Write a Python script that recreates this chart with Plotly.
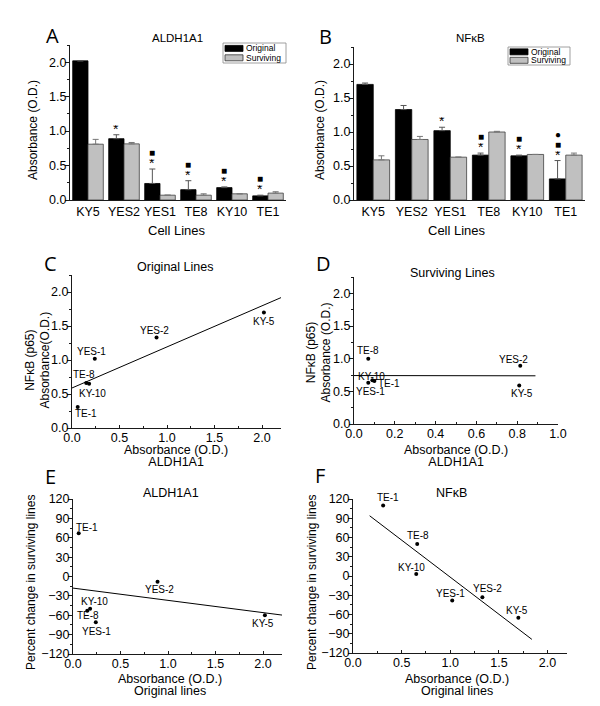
import numpy as np
import plotly.graph_objects as go

# ---------------- data ----------------
cell_lines = ["KY5", "YES2", "YES1", "TE8", "KY10", "TE1"]
aldh_original = [2.02, 0.89, 0.24, 0.15, 0.18, 0.06]
aldh_original_err = [0.0, 0.057, 0.21, 0.13, 0.01, 0.01]
aldh_surviving = [0.81, 0.815, 0.07, 0.07, 0.09, 0.10]
aldh_surviving_err = [0.07, 0.02, 0.0, 0.02, 0.0, 0.02]
nfkb_original = [1.70, 1.33, 1.02, 0.66, 0.65, 0.31]
nfkb_original_err = [0.02, 0.06, 0.05, 0.03, 0.01, 0.27]
nfkb_surviving = [0.59, 0.89, 0.63, 1.00, 0.67, 0.66]
nfkb_surviving_err = [0.06, 0.045, 0.0, 0.01, 0.0, 0.03]
aldh_sig = ["", "*", "*■", "*■", "*■", "*■"]
nfkb_sig = ["", "", "*", "*■", "*■", "*■●"]

point_labels = ["KY-5", "YES-2", "YES-1", "TE-8", "KY-10", "TE-1"]
aldh_pct_change = [-60, -8, -71, -53, -50, 67]
nfkb_pct_change = [-65, -33, -38, 50, 3, 110]

# ---------------- helpers ----------------
# the page body keeps its default 8px margin, so the figure is drawn 8px in
# from the top-left of the window; all positions below are window pixels.
PAGE_OFF = 8
W, H = 600 - PAGE_OFF, 706 - PAGE_OFF
FONT = "Liberation Sans"
INK = "#1a1a1a"
TICKFS = 12.5


def fx(p):
    return (p - PAGE_OFF) / W


def fy(p):
    return 1 - (p - PAGE_OFF) / H


def base_axis(**kw):
    d = dict(showline=True, linecolor=INK, linewidth=1, ticks="outside", ticklen=4,
             tickwidth=1, tickcolor=INK, showgrid=False, zeroline=False, automargin=False,
             tickfont=dict(size=TICKFS, family=FONT, color="#000"), fixedrange=True)
    d.update(kw)
    return d


def yax(**kw):
    return base_axis(ticklabelstandoff=-4, **kw)


def minor(dt, where="outside"):
    return dict(dtick=dt, ticks=where, ticklen=2, tickcolor=INK, tickwidth=1)


def sized(s, px):
    return "<span style='font-size:%gpx'>%s</span>" % (px, s)


fig = go.Figure()

# ---------------- bar panels A & B ----------------
bar_panels = [
    ("x", "y", aldh_original, aldh_original_err, aldh_surviving, aldh_surviving_err, aldh_sig),
    ("x2", "y2", nfkb_original, nfkb_original_err, nfkb_surviving, nfkb_surviving_err, nfkb_sig),
]
annotations = []
BARGAP = 0.15
SIG_STYLE = {"*": (6, 14), "■": (17, 10), "●": (27, 10)}   # (px above error cap, font size)
for xa, ya, orig, oerr, surv, serr, sig in bar_panels:
    fig.add_trace(go.Bar(
        x=cell_lines, y=orig, xaxis=xa, yaxis=ya, showlegend=False, name="Original",
        marker=dict(color="#000000", line=dict(color="#000000", width=0.8)),
        error_y=dict(type="data", array=oerr, arrayminus=[0] * len(oerr), symmetric=False,
                     color="#555555", thickness=1, width=3)))
    fig.add_trace(go.Bar(
        x=cell_lines, y=surv, xaxis=xa, yaxis=ya, showlegend=False, name="Surviving",
        marker=dict(color="#c0c0c0", line=dict(color="#404040", width=0.8)),
        error_y=dict(type="data", array=serr, arrayminus=[0] * len(serr), symmetric=False,
                     color="#777777", thickness=1, width=3)))
    off = -(1 - BARGAP) / 4
    for i, s in enumerate(sig):
        top = orig[i] + oerr[i]
        for ch in s:
            ys, fs = SIG_STYLE[ch]
            annotations.append(dict(x=i + off, y=top, xref=xa, yref=ya, text=ch, showarrow=False,
                                    yshift=ys, height=8, width=10, borderpad=0,
                                    font=dict(size=fs, family=FONT, color="#000")))


# ---------------- scatter panels ----------------
def add_scatter(xa, ya, xs, ys, xrange_, offsets):
    fig.add_trace(go.Scatter(x=xs, y=ys, mode="markers", xaxis=xa, yaxis=ya, showlegend=False,
                             marker=dict(color="#000", size=4)))
    slope, intercept = np.polyfit(xs, ys, 1)
    ext = 0.1 * (max(xs) - min(xs))
    x0 = max(xrange_[0], min(xs) - ext)
    x1 = min(xrange_[1], max(xs) + ext)
    lx = np.array([x0, x1])
    fig.add_trace(go.Scatter(x=lx, y=slope * lx + intercept, mode="lines", xaxis=xa, yaxis=ya,
                             showlegend=False, line=dict(color="#000", width=1)))
    for lab, xv, yv in zip(point_labels, xs, ys):
        dx, dy = offsets[lab]
        annotations.append(dict(x=xv, y=yv, xref=xa, yref=ya, text=lab, showarrow=False,
                                xshift=dx, yshift=-dy, font=dict(size=10, family=FONT, color="#000")))


offC = {"KY-5": (0, 9), "YES-2": (-2, -7), "YES-1": (-3, -7), "TE-8": (-2, -9), "KY-10": (3, 10), "TE-1": (8, 7)}
offD = {"KY-5": (3, 8), "YES-2": (-7, -6), "YES-1": (2, 9), "TE-8": (0, -8), "KY-10": (-1, -4), "TE-1": (15, 3)}
offE = {"KY-5": (-2, 8), "YES-2": (2, 8), "YES-1": (1, 9), "TE-8": (1, 5), "KY-10": (4, -7), "TE-1": (8, -6)}
offF = {"KY-5": (-1, -7), "YES-2": (5, -9), "YES-1": (-2, -7), "TE-8": (1, -8), "KY-10": (-5, -7), "TE-1": (5, -8)}

add_scatter("x3", "y3", aldh_original, nfkb_original, (0, 2.2), offC)
add_scatter("x4", "y4", aldh_surviving, nfkb_surviving, (0, 1.0), offD)
add_scatter("x5", "y5", aldh_original, aldh_pct_change, (0, 2.2), offE)
add_scatter("x6", "y6", nfkb_original, nfkb_pct_change, (0, 2.2), offF)

# ---------------- axes ----------------
sx = dict(ticks="inside", ticklen=3, tickformat=".1f", ticklabelstandoff=-2)
layout_axes = dict(
    xaxis=base_axis(domain=[fx(70), fx(286)], anchor="y", type="category", range=[-0.5, 5.5], ticks=""),
    yaxis=yax(domain=[fy(200), fy(45)], anchor="x", range=[0, 2.25], dtick=0.5, tickformat=".1f", minor=minor(0.25)),
    xaxis2=base_axis(domain=[fx(354), fx(585)], anchor="y2", type="category", range=[-0.5, 5.5], ticks=""),
    yaxis2=yax(domain=[fy(200), fy(47)], anchor="x2", range=[0, 2.25], dtick=0.5, tickformat=".1f", minor=minor(0.25)),
    xaxis3=base_axis(domain=[fx(72), fx(281)], anchor="y3", range=[0, 2.2], dtick=0.5, minor=minor(0.25, "inside"), **sx),
    yaxis3=yax(domain=[fy(428), fy(275)], anchor="x3", range=[0, 2.25], dtick=0.5, tickformat=".1f", minor=minor(0.25)),
    xaxis4=base_axis(domain=[fx(354), fx(558)], anchor="y4", range=[0, 1.0], dtick=0.2, minor=minor(0.1, "inside"), **sx),
    yaxis4=yax(domain=[fy(424), fy(277)], anchor="x4", range=[0, 2.25], dtick=0.5, tickformat=".1f", minor=minor(0.25)),
    xaxis5=base_axis(domain=[fx(73), fx(282)], anchor="y5", range=[0, 2.2], dtick=0.5, minor=minor(0.25, "inside"), **sx),
    yaxis5=yax(domain=[fy(654), fy(499)], anchor="x5", range=[-120, 120], dtick=30, minor=minor(15)),
    xaxis6=base_axis(domain=[fx(353), fx(567)], anchor="y6", range=[0, 2.2], dtick=0.5, minor=minor(0.25, "inside"), **sx),
    yaxis6=yax(domain=[fy(653), fy(499)], anchor="x6", range=[-120, 120], dtick=30, minor=minor(15)),
)


# ---------------- text ----------------
def txt(x, y, s, size=12, angle=0, xanchor="center", family=FONT):
    annotations.append(dict(x=fx(x), y=fy(y), xref="paper", yref="paper", text=s, showarrow=False,
                            textangle=angle, xanchor=xanchor, yanchor="middle", borderpad=0,
                            font=dict(size=size, family=family, color="#000")))


def two_lines(x, y, a, b, px, gap, angle=0):
    # one text block, line gap set by the base font size
    txt(x, y, sized(a, px) + "<br>" + sized(b, px), size=gap / 1.3, angle=angle)


LET = "Open Sans"
for L, (x, y) in {"A": (52, 35), "B": (325, 36), "C": (50, 264), "D": (323, 263), "E": (50, 476), "F": (320, 475)}.items():
    txt(x, y, L, size=20, family=LET)

txt(177, 38, "ALDH1A1", 11.5)
txt(470, 38, "NFκB", 11.5)
txt(175, 267, "Original Lines", 12.5)
txt(452, 273, "Surviving Lines", 12.5)
txt(171, 493, "ALDH1A1", 12.5)
txt(451, 493, "NFκB", 12.5)

txt(33, 130, "Absorbance (O.D.)", 12, -90)
txt(320, 130, "Absorbance (O.D.)", 12, -90)
txt(177, 230, "Cell Lines", 13)
txt(457, 230, "Cell Lines", 13)

two_lines(36.5, 360, "NFκB (p65)", "Absorbance(O.D.)", 12, 15, -90)
two_lines(317.5, 353, "NFκB (p65)", "Absorbance (O.D.)", 12, 15, -90)
two_lines(176, 455.5, "Absorbance (O.D.)", "ALDH1A1", 12.5, 12)
two_lines(456, 455.5, "Absorbance (O.D.)", "ALDH1A1", 12.5, 12)

txt(31, 583, "Percent change in surviving lines", 12, -90)
txt(312, 583, "Percent change in surviving lines", 12, -90)
two_lines(170, 685, "Absorbance (O.D.)", "Original lines", 12.5, 11.5)
two_lines(457, 685, "Absorbance (O.D.)", "Original lines", 12.5, 11.5)

# ---------------- hand-drawn legends ----------------
shapes = []


def rect(x0, y0, x1, y1, fill, line, lw=0.8):
    shapes.append(dict(type="rect", xref="paper", yref="paper", x0=fx(x0), x1=fx(x1), y0=fy(y1), y1=fy(y0),
                       fillcolor=fill, line=dict(color=line, width=lw)))


for (bx0, by0, bx1, by1) in [(223, 43, 286, 63), (508, 47, 570, 65)]:
    rect(bx0, by0, bx1, by1, "rgba(0,0,0,0)", "#888888", 0.8)
    h = (by1 - by0)
    r1 = by0 + h * 0.27
    r2 = by0 + h * 0.74
    rect(bx0 + 2, r1 - 3, bx0 + 20, r1 + 3, "#000000", "#000000")
    rect(bx0 + 2, r2 - 3, bx0 + 20, r2 + 3, "#c0c0c0", "#333333")
    txt(bx0 + 22, r1, "Original", 8.5, xanchor="left")
    txt(bx0 + 22, r2, "Surviving", 8.5, xanchor="left")

fig.update_layout(
    width=W, height=H, margin=dict(l=0, r=0, t=0, b=0, pad=0, autoexpand=False),
    paper_bgcolor="white", plot_bgcolor="white",
    barmode="group", bargap=BARGAP, bargroupgap=0,
    font=dict(family=FONT, size=12, color="#000"),
    annotations=annotations, shapes=shapes, showlegend=False,
    **layout_axes,
)

fig.write_html("out.html")
